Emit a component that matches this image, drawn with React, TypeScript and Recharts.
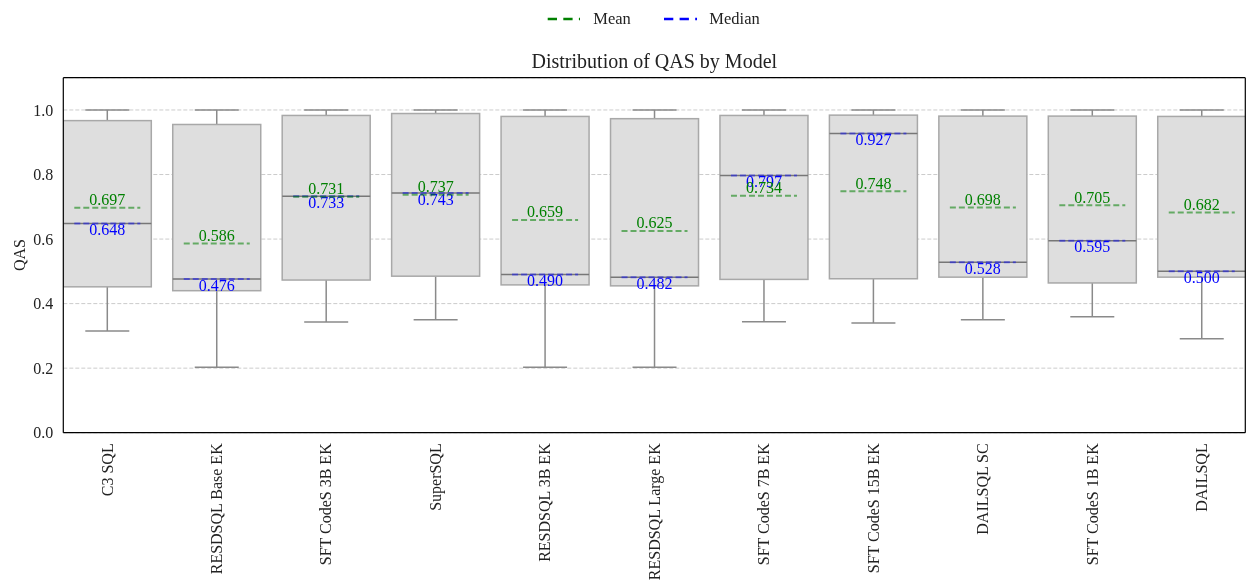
import React from 'react';
import {
  ComposedChart,
  Bar,
  XAxis,
  YAxis,
  CartesianGrid,
  ReferenceLine,
} from 'recharts';

// QAS distribution per model (box = Q1..Q3, whiskers = min..max)
const models = [
  'C3 SQL',
  'RESDSQL Base EK',
  'SFT CodeS 3B EK',
  'SuperSQL',
  'RESDSQL 3B EK',
  'RESDSQL Large EK',
  'SFT CodeS 7B EK',
  'SFT CodeS 15B EK',
  'DAILSQL SC',
  'SFT CodeS 1B EK',
  'DAILSQL',
];
const whiskerLow = [0.315, 0.203, 0.343, 0.35, 0.203, 0.203, 0.344, 0.34, 0.35, 0.359, 0.291];
const q1 = [0.452, 0.44, 0.473, 0.485, 0.458, 0.455, 0.475, 0.477, 0.482, 0.464, 0.482];
const medians = [0.648, 0.476, 0.733, 0.743, 0.49, 0.482, 0.797, 0.927, 0.528, 0.595, 0.5];
const means = [0.697, 0.586, 0.731, 0.737, 0.659, 0.625, 0.734, 0.748, 0.698, 0.705, 0.682];
const q3 = [0.967, 0.955, 0.983, 0.989, 0.98, 0.973, 0.983, 0.984, 0.981, 0.981, 0.98];
const whiskerHigh = [1, 1, 1, 1, 1, 1, 1, 1, 1, 1, 1];
const yTicks = [0, 0.2, 0.4, 0.6, 0.8, 1.0];
const xTicks = models.map((_, i) => i);

const rows = models.map((name, i) => ({
  idx: i,
  name,
  lower: [whiskerLow[i], q1[i]],
  box: [q1[i], q3[i]],
  upper: [q3[i], whiskerHigh[i]],
  med: [medians[i], medians[i]],
  avg: [means[i], means[i]],
  medianValue: medians[i],
  meanValue: means[i],
}));

const FONT = "'Liberation Serif', 'Times New Roman', serif";
const WHISKER = '#8a8a8a';
const X_DOMAIN: [number, number] = [-0.4, 10.4];

const LowerWhisker = (p: any) => {
  const cx = p.x + p.width / 2;
  const bottom = p.y + p.height;
  return (
    <g>
      <line x1={cx} x2={cx} y1={p.y} y2={bottom} stroke={WHISKER} strokeWidth={1.5} />
      <line x1={cx - p.width / 4} x2={cx + p.width / 4} y1={bottom} y2={bottom} stroke={WHISKER} strokeWidth={1.5} />
    </g>
  );
};

const UpperWhisker = (p: any) => {
  const cx = p.x + p.width / 2;
  return (
    <g>
      <line x1={cx} x2={cx} y1={p.y} y2={p.y + p.height} stroke={WHISKER} strokeWidth={1.5} />
      <line x1={cx - p.width / 4} x2={cx + p.width / 4} y1={p.y} y2={p.y} stroke={WHISKER} strokeWidth={1.5} />
    </g>
  );
};

const BoxShape = (p: any) => (
  <rect x={p.x} y={p.y} width={p.width} height={p.height} fill="#dedede" stroke="#a8a8a8" strokeWidth={1.5} />
);

const MedianShape = (p: any) => {
  const cx = p.x + p.width / 2;
  const half = p.width * 0.375;
  return (
    <g>
      <line x1={p.x} x2={p.x + p.width} y1={p.y} y2={p.y} stroke="#777777" strokeWidth={1.5} />
      <line
        x1={cx - half}
        x2={cx + half}
        y1={p.y}
        y2={p.y}
        stroke="rgba(0,0,255,0.45)"
        strokeWidth={2}
        strokeDasharray="6 3"
      />
      <text x={cx} y={p.y + 11.7} textAnchor="middle" fontSize={16} fill="#0000ff" fontFamily={FONT}>
        {p.payload.medianValue.toFixed(3)}
      </text>
    </g>
  );
};

const MeanShape = (p: any) => {
  const cx = p.x + p.width / 2;
  const half = p.width * 0.375;
  return (
    <g>
      <line
        x1={cx - half}
        x2={cx + half}
        y1={p.y}
        y2={p.y}
        stroke="rgba(0,128,0,0.55)"
        strokeWidth={2}
        strokeDasharray="6 3"
      />
      <text x={cx} y={p.y - 2.6} textAnchor="middle" fontSize={16} fill="#008000" fontFamily={FONT}>
        {p.payload.meanValue.toFixed(3)}
      </text>
    </g>
  );
};

const XTick = (p: any) => {
  const ty = p.y + 10.6;
  return (
    <text
      x={p.x}
      y={ty}
      transform={`rotate(-90, ${p.x}, ${ty})`}
      textAnchor="end"
      dominantBaseline="central"
      fontSize={16}
      fill="#222"
      fontFamily={FONT}
    >
      {models[p.payload.value]}
    </text>
  );
};

const hiddenAxis = (id: string) => (
  <XAxis
    key={id}
    xAxisId={id}
    dataKey="idx"
    type="number"
    domain={X_DOMAIN}
    ticks={xTicks}
    allowDataOverflow
    hide
  />
);

export default function App() {
  return (
    <div
      style={{
        position: 'fixed',
        left: 8,
        top: 8,
        width: 1240,
        height: 580,
        overflow: 'hidden',
        fontFamily: FONT,
      }}
    >
      <svg width={1240} height={70} style={{ position: 'absolute', left: 0, top: 0 }}>
        <line x1={539.7} x2={572} y1={11} y2={11} stroke="#008000" strokeWidth={2.5} strokeDasharray="9.3 6.3" />
        <text x={585.3} y={16.3} fontSize={16.5} fill="#222" fontFamily={FONT}>Mean</text>
        <line x1={656} x2={689} y1={11} y2={11} stroke="#0000ff" strokeWidth={2.5} strokeDasharray="9.3 6.3" />
        <text x={701.3} y={16.3} fontSize={16.5} fill="#222" fontFamily={FONT}>Median</text>
        <text x={646.3} y={60.3} textAnchor="middle" fontSize={20} fill="#222" fontFamily={FONT}>
          Distribution of QAS by Model
        </text>
      </svg>
      <svg width={40} height={580} style={{ position: 'absolute', left: 0, top: 0 }}>
        <text
          x={17}
          y={247}
          transform="rotate(-90, 17, 247)"
          textAnchor="middle"
          fontSize={16}
          fill="#222"
          fontFamily={FONT}
        >
          QAS
        </text>
      </svg>
      <div style={{ position: 'absolute', left: 0, top: 0 }}>
        <ComposedChart
          width={1240}
          height={580}
          data={rows}
          margin={{ top: 69.7, right: 2.7, bottom: 5.3, left: 8 }}
          barCategoryGap="10%"
        >
          <CartesianGrid vertical={false} stroke="#cccccc" strokeDasharray="4 2" />
          <XAxis
            dataKey="idx"
            type="number"
            domain={X_DOMAIN}
            ticks={xTicks}
            allowDataOverflow
            height={150}
            tickSize={0}
            tickMargin={0}
            tick={<XTick />}
            axisLine={{ stroke: '#000', strokeWidth: 1.2 }}
            tickLine={false}
            interval={0}
          />
          {hiddenAxis('lo')}
          {hiddenAxis('hi')}
          {hiddenAxis('md')}
          {hiddenAxis('mn')}
          <YAxis
            type="number"
            domain={[0, 1.1]}
            ticks={yTicks}
            allowDataOverflow
            width={47.3}
            tickSize={0}
            tickMargin={10}
            tickFormatter={(v: number) => v.toFixed(1)}
            tick={{ fill: '#222', fontSize: 16, fontFamily: FONT }}
            axisLine={{ stroke: '#000', strokeWidth: 1.2 }}
            tickLine={false}
          />
          <Bar xAxisId="lo" dataKey="lower" shape={LowerWhisker} isAnimationActive={false} />
          <Bar xAxisId="hi" dataKey="upper" shape={UpperWhisker} isAnimationActive={false} />
          <Bar dataKey="box" shape={BoxShape} isAnimationActive={false} />
          <Bar xAxisId="md" dataKey="med" shape={MedianShape} isAnimationActive={false} />
          <Bar xAxisId="mn" dataKey="avg" shape={MeanShape} isAnimationActive={false} />
          <ReferenceLine y={1.1} stroke="#000" strokeWidth={1.2} ifOverflow="visible" />
          <ReferenceLine x={10.4} stroke="#000" strokeWidth={1.2} ifOverflow="visible" />
        </ComposedChart>
      </div>
    </div>
  );
}
